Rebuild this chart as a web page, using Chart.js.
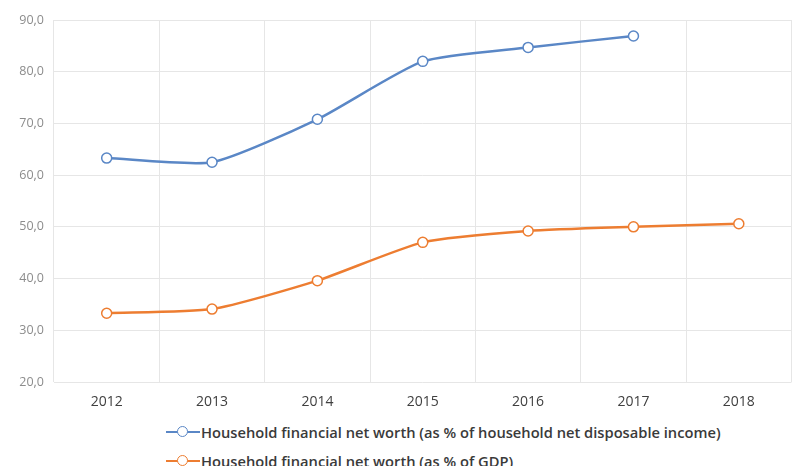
<!DOCTYPE html>
<html>
<head>
<meta charset="utf-8">
<script src="https://cdn.jsdelivr.net/npm/chart.js@4"></script>
<style>
  body{margin:0;background:#fff;font-family:"Open Sans",sans-serif;}
  #wrap{position:relative;width:798px;height:466px;overflow:hidden;}
  #legend{position:absolute;left:166px;top:417px;font-size:14.7px;font-weight:600;color:#3a3a3a;}
  .row{display:flex;align-items:center;height:29px;}
  .mk{position:relative;width:34px;height:14px;margin-right:1px;}
  .mk .ln{position:absolute;left:0;right:0;top:6px;height:2.5px;}
  .mk .dot{position:absolute;left:11px;top:1px;width:9px;height:9px;border-radius:50%;background:#fff;border:1.5px solid;}
</style>
</head>
<body>
<div id="wrap">
  <canvas id="myChart" width="798" height="415"></canvas>
  <div id="legend"></div>
</div>
<script>
const years=["2012","2013","2014","2015","2016","2017","2018"];
const incomeShare=[63.3,62.5,70.8,82.0,84.7,86.9,null];
const gdpShare=[33.3,34.1,39.6,47.0,49.2,50.0,50.6];
const labelIncome="Household financial net worth (as % of household net disposable income)";
const labelGdp="Household financial net worth (as % of GDP)";
const blue="#5A87C6", orange="#ED7D31";

const data={
  labels:years,
  datasets:[
    {label:labelIncome,data:incomeShare,borderColor:blue,backgroundColor:"#fff",borderWidth:2.5,
     pointRadius:5,pointBorderWidth:1.5,pointBackgroundColor:"#fff",pointBorderColor:blue,tension:0.2},
    {label:labelGdp,data:gdpShare,borderColor:orange,backgroundColor:"#fff",borderWidth:2.5,
     pointRadius:5,pointBorderWidth:1.5,pointBackgroundColor:"#fff",pointBorderColor:orange,tension:0.2}
  ]
};

const options={
  responsive:false,
  animation:false,
  layout:{padding:{top:20,right:4,left:0,bottom:0}},
  plugins:{legend:{display:false},tooltip:{enabled:false}},
  scales:{
    x:{
      offset:true,
      grid:{offset:true,color:"#e6e6e6",lineWidth:1,drawTicks:false},
      border:{display:false},
      ticks:{color:"#404040",font:{family:"Open Sans",size:14},padding:12},
      afterFit:(s)=>{s.height=33;}
    },
    y:{
      min:20,max:90,
      grid:{color:"#e6e6e6",lineWidth:1,drawTicks:false},
      border:{display:false},
      ticks:{stepSize:10,color:"#8c8c8c",font:{family:"Open Sans",size:12.5},padding:10,
        callback:(v)=>v.toFixed(1).replace(".",",")},
      afterFit:(s)=>{s.width=54;}
    }
  }
};

new Chart(document.getElementById("myChart"),{type:"line",data:data,options:options});

const legend=document.getElementById("legend");
[[labelIncome,blue],[labelGdp,orange]].forEach(([t,c])=>{
  const row=document.createElement("div");row.className="row";
  row.innerHTML='<span class="mk"><span class="ln" style="background:'+c+'"></span><span class="dot" style="border-color:'+c+'"></span></span><span>'+t+'</span>';
  legend.appendChild(row);
});
</script>
</body>
</html>
